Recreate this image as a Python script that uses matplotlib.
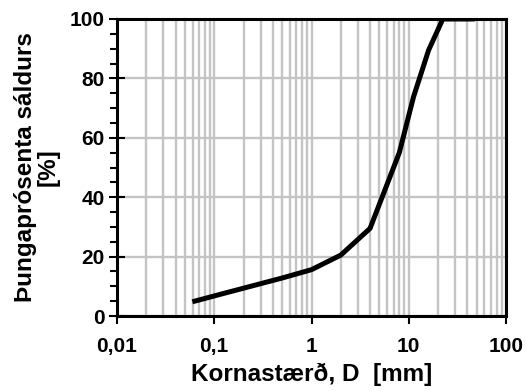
import matplotlib
matplotlib.use("Agg")
import matplotlib.pyplot as plt
from matplotlib.ticker import FixedLocator, LogLocator, NullFormatter, MultipleLocator

# Grain size distribution (sieve sizes in mm, percent passing)
sieve_mm = [0.063, 0.125, 0.25, 0.5, 1.0, 2.0, 4.0, 8.0, 11.2, 16.0, 22.4, 31.5, 45.0]
passing_pct = [5.0, 7.6, 10.2, 12.8, 15.6, 20.5, 29.5, 55.0, 73.8, 89.5, 100.0, 100.0, 100.0]

x_ticks = [0.01, 0.1, 1, 10, 100]
x_tick_labels = ["0,01", "0,1", "1", "10", "100"]
y_ticks = [0, 20, 40, 60, 80, 100]

plt.rcParams["font.family"] = ["Liberation Sans", "DejaVu Sans"]
plt.rcParams["font.weight"] = "bold"

fig = plt.figure(figsize=(5.26, 3.91), dpi=100)
ax = fig.add_axes([117 / 526, 1 - 316 / 391, (506 - 117) / 526, (316 - 19) / 391])

ax.set_xscale("log")
ax.set_xlim(0.01, 100)
ax.set_ylim(0, 100)

# grid: every decade subdivision vertically, major steps horizontally
ax.xaxis.set_minor_locator(LogLocator(base=10, subs=range(2, 10)))
ax.xaxis.set_minor_formatter(NullFormatter())
ax.grid(which="both", axis="x", color="#c4c4c4", linewidth=1.7, zorder=0)
ax.grid(which="major", axis="y", color="#c4c4c4", linewidth=1.7, zorder=0)

ax.plot(sieve_mm, passing_pct, color="black", linewidth=3.6,
        solid_joinstyle="miter", zorder=3)

ax.xaxis.set_major_locator(FixedLocator(x_ticks))
ax.set_xticklabels(x_tick_labels)
ax.set_yticks(y_ticks)
ax.yaxis.set_minor_locator(MultipleLocator(5))

ax.tick_params(axis="x", which="major", direction="out", length=6, width=1.5,
               labelsize=15, pad=9)
ax.tick_params(axis="x", which="minor", length=0)
ax.tick_params(axis="y", which="major", direction="inout", length=12, width=1.5,
               labelsize=15, pad=3)
ax.tick_params(axis="y", which="minor", direction="out", length=5, width=1.5)

for spine in ax.spines.values():
    spine.set_linewidth(2.2)
    spine.set_color("black")
    spine.set_zorder(4)

ax.set_xlabel("Kornastærð, D  [mm]", fontsize=17.5, fontweight="bold", labelpad=5)
ax.set_ylabel("Þungaprósenta sáldurs\n[%]", fontsize=17.5, fontweight="bold",
              labelpad=7, linespacing=1.0)

fig.savefig("out.png", dpi=100)
